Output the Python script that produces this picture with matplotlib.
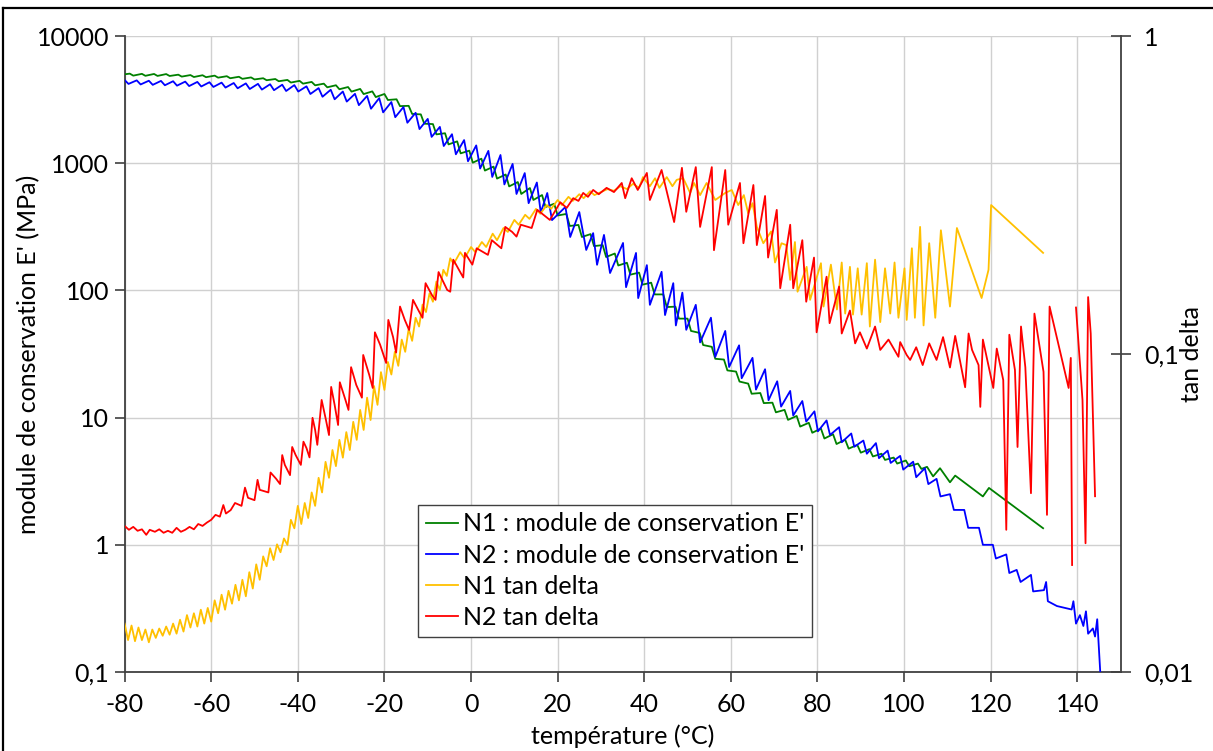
import numpy as np
import matplotlib
matplotlib.use("Agg")
import matplotlib.pyplot as plt
from matplotlib.lines import Line2D
from matplotlib.ticker import FixedLocator, NullLocator, FixedFormatter

plt.rcParams['font.family'] = ['Lato', 'DejaVu Sans']
plt.rcParams['axes.unicode_minus'] = False

# ---------------- data ----------------
# N1 : module de conservation E' (MPa)  -> (temperature, value)
n1_modulus = [
    (-80.0, 5000), (-78.8, 5060), (-78.0, 4880), (-76.0, 5040), (-75.2, 4865), (-73.2, 5030), (-72.4, 4855),
    (-70.4, 5020), (-69.6, 4850), (-67.6, 4965), (-66.8, 4795), (-64.8, 4930), (-64.0, 4760),
    (-62.0, 4915), (-61.2, 4745), (-59.2, 4880), (-58.4, 4705), (-56.4, 4830), (-55.6, 4655),
    (-53.6, 4780), (-52.8, 4605), (-50.8, 4725), (-50.0, 4555), (-48.0, 4655), (-47.2, 4490),
    (-45.2, 4590), (-44.4, 4410), (-42.4, 4515), (-41.6, 4305), (-39.6, 4440), (-38.8, 4220),
    (-36.8, 4355), (-36.0, 4095), (-34.0, 4220), (-33.2, 3950), (-31.2, 4100), (-30.4, 3815),
    (-28.4, 3970), (-27.6, 3655), (-25.6, 3835), (-24.8, 3495), (-22.8, 3670), (-22.0, 3310),
    (-20.0, 3500), (-19.2, 3140), (-17.2, 3180), (-16.4, 2810), (-14.4, 2825), (-13.6, 2440),
    (-11.6, 2420), (-10.8, 2045), (-8.8, 2030), (-8.0, 1685), (-6.0, 1720), (-5.2, 1405),
    (-3.2, 1485), (-2.4, 1195), (-0.4, 1255), (0.4, 1010), (2.4, 1085), (3.2, 875),
    (5.2, 940), (6.0, 757), (8.0, 815), (8.8, 657), (10.8, 711), (11.6, 573),
    (13.6, 638), (14.4, 514), (16.4, 562), (17.2, 452), (19.2, 480), (20.0, 388),
    (22.0, 399), (22.8, 321), (24.8, 327), (25.6, 263), (27.6, 277), (28.4, 223),
    (30.4, 227), (31.2, 183), (33.2, 195), (34.0, 157), (36.0, 165), (36.8, 133),
    (38.8, 138), (39.6, 111), (41.6, 115), (42.4, 93), (44.4, 93), (45.2, 74),
    (47.2, 74.5), (48.0, 60), (50.0, 60), (50.8, 48), (52.8, 46.3), (53.6, 37.2),
    (55.6, 36), (56.4, 29), (58.4, 28.6), (59.2, 23.5), (61.2, 23), (62.0, 19.2),
    (64.0, 18.5), (64.8, 15.4), (66.8, 15.6), (67.6, 13.0), (69.6, 13.1), (70.4, 11.0),
    (72.4, 11.5), (73.2, 9.6), (75.2, 10.3), (76.0, 8.5), (78.0, 9.1), (78.8, 7.6),
    (80.8, 8.2), (81.6, 6.85), (83.6, 7.4), (84.4, 6.2), (86.4, 6.7), (87.2, 5.7),
    (89.2, 6.1), (90.0, 5.3), (92.0, 5.65), (92.8, 4.95), (94.8, 5.2), (95.6, 4.65),
    (97.6, 4.85), (98.4, 4.35), (100.4, 4.6), (101.2, 4.15), (103.2, 4.35), (104.0, 3.95),
    (105.3, 4.1), (106.7, 3.45), (108.3, 4.0), (110.6, 3.1), (111.8, 3.5), (118.2, 2.4),
    (119.6, 2.8), (132.1, 1.35),
]

# N2 : module de conservation E' (MPa)
n2_modulus = [
    (-80.0, 4510), (-79.1, 4200), (-77.2, 4480), (-76.3, 4160), (-74.4, 4450), (-73.5, 4130),
    (-71.6, 4435), (-70.7, 4100), (-68.8, 4410), (-67.9, 4070), (-66.0, 4380), (-65.1, 4040),
    (-63.2, 4355), (-62.3, 4010), (-60.4, 4330), (-59.5, 3975), (-57.6, 4300), (-56.7, 3930),
    (-54.8, 4270), (-53.9, 3880), (-52.0, 4240), (-51.1, 3830), (-49.2, 4205), (-48.3, 3790),
    (-46.4, 4175), (-45.5, 3750), (-43.6, 4140), (-42.7, 3695), (-40.8, 4110), (-39.9, 3660),
    (-38.0, 4020), (-37.1, 3500), (-35.2, 3895), (-34.3, 3330), (-32.4, 3780), (-31.5, 3180),
    (-29.6, 3660), (-28.7, 3050), (-26.8, 3510), (-25.9, 2860), (-24.0, 3380), (-23.1, 2680),
    (-21.2, 3250), (-20.3, 2510), (-18.4, 3025), (-17.5, 2300), (-15.6, 2765), (-14.7, 2080),
    (-12.8, 2490), (-11.9, 1855), (-10.0, 2230), (-9.1, 1610), (-7.2, 1930), (-6.3, 1365),
    (-4.4, 1690), (-3.5, 1175), (-1.6, 1520), (-0.7, 1036), (1.2, 1380), (2.1, 908),
    (4.0, 1250), (4.9, 780), (6.8, 1160), (7.7, 681), (9.6, 987), (10.5, 573),
    (12.4, 836), (13.3, 485), (15.2, 705), (16.1, 410), (17.6, 583), (18.7, 357),
    (21.8, 453), (22.9, 263), (25.0, 413), (26.6, 208), (28.2, 282), (29.1, 159),
    (30.7, 273), (32.1, 137), (35.1, 236), (35.8, 106), (38.1, 197), (38.6, 87),
    (40.6, 158), (41.3, 77), (44.0, 140), (44.8, 64), (46.7, 114), (47.3, 53),
    (48.8, 96), (49.7, 49), (51.9, 77), (52.9, 39), (55.4, 61), (56.4, 30),
    (58.7, 48), (59.6, 25), (61.9, 37), (62.5, 20.4), (65.0, 29.5), (65.8, 16.6),
    (67.9, 24), (68.7, 13.7), (70.7, 19.3), (71.6, 12.2), (73.7, 16.2), (74.4, 10.4),
    (76.5, 13.5), (77.4, 9.3), (79.3, 11.2), (80.1, 7.8), (82.1, 9.5), (82.9, 7.3),
    (85.0, 8.4), (85.6, 6.4), (87.8, 7.5), (88.5, 5.9), (90.6, 6.6), (91.4, 5.2),
    (93.5, 6.3), (94.2, 4.8), (96.2, 5.5), (96.9, 4.4), (99.1, 5.0), (99.8, 3.9),
    (102.1, 4.5), (102.8, 3.4), (104.8, 4.0), (105.6, 3.0), (107.5, 3.3), (108.4, 2.4),
    (110.6, 2.5), (111.5, 1.88), (113.9, 1.88), (114.8, 1.36), (117.3, 1.36), (118.2, 1.0),
    (120.5, 1.0), (121.2, 0.78), (123.6, 0.84), (124.3, 0.60), (126.0, 0.635), (126.9, 0.51),
    (129.3, 0.58), (129.8, 0.43), (132.3, 0.44), (132.8, 0.51), (133.2, 0.36), (135.3, 0.33),
    (138.7, 0.31), (139.1, 0.36), (139.7, 0.24), (140.6, 0.28), (141.4, 0.23), (142.0, 0.30),
    (142.5, 0.20), (143.6, 0.22), (144.1, 0.19), (144.6, 0.26), (145.3, 0.10),
]

# N1 tan delta
n1_tan = [
    (-80.0, 0.0142), (-79.2, 0.0126), (-78.4, 0.0140), (-77.6, 0.0125), (-76.8, 0.0138), (-76.0, 0.0126),
    (-75.2, 0.0136), (-74.4, 0.0124), (-73.6, 0.0136), (-72.8, 0.0128), (-72.0, 0.0137), (-71.2, 0.0130),
    (-70.4, 0.0139), (-69.6, 0.0131), (-68.8, 0.0142), (-68.0, 0.0132), (-67.2, 0.0146), (-66.4, 0.0134),
    (-65.6, 0.0151), (-64.8, 0.0138), (-64.0, 0.0153), (-63.2, 0.0139), (-62.4, 0.0157), (-61.6, 0.0142),
    (-60.8, 0.0159), (-60.0, 0.0144), (-59.2, 0.0168), (-58.4, 0.0153), (-57.6, 0.0175), (-56.8, 0.0157),
    (-56.0, 0.0180), (-55.2, 0.0164), (-54.4, 0.0188), (-53.6, 0.0168), (-52.8, 0.0195), (-52.0, 0.0173),
    (-51.2, 0.0206), (-50.4, 0.0183), (-49.6, 0.0218), (-48.8, 0.0195), (-48.0, 0.0231), (-47.2, 0.0215),
    (-46.4, 0.0245), (-45.6, 0.0225), (-44.8, 0.0252), (-44.0, 0.0238), (-43.2, 0.0263), (-42.4, 0.0251),
    (-41.6, 0.0301), (-40.8, 0.0283), (-40.0, 0.0333), (-39.2, 0.0292), (-38.4, 0.0340), (-37.6, 0.0305),
    (-36.8, 0.0367), (-36.0, 0.0333), (-35.2, 0.0408), (-34.4, 0.0367), (-33.6, 0.0458), (-32.8, 0.0408),
    (-32.0, 0.0499), (-31.2, 0.0444), (-30.4, 0.0537), (-29.6, 0.0472), (-28.8, 0.0568), (-28.0, 0.0499),
    (-27.2, 0.0612), (-26.4, 0.0537), (-25.6, 0.0667), (-24.8, 0.0577), (-24.0, 0.0729), (-23.2, 0.0620),
    (-22.4, 0.0793), (-21.6, 0.0692), (-20.8, 0.0877), (-20.0, 0.0771), (-19.2, 0.0944), (-18.4, 0.0862),
    (-17.6, 0.1016), (-16.8, 0.0918), (-16.0, 0.111), (-15.2, 0.1016), (-14.4, 0.120), (-13.6, 0.110),
    (-12.8, 0.130), (-12.0, 0.122), (-11.2, 0.143), (-10.4, 0.1355), (-9.6, 0.155), (-8.8, 0.146),
    (-8.0, 0.169), (-7.2, 0.159), (-6.4, 0.184), (-5.6, 0.176), (-4.8, 0.200), (-4.0, 0.192),
    (-2.5, 0.209), (-1.5, 0.200), (0.0, 0.217), (1.0, 0.209), (2.5, 0.225), (3.5, 0.217),
    (5.0, 0.239), (6.0, 0.228), (7.5, 0.249), (8.5, 0.242), (10.0, 0.264), (11.0, 0.255),
    (12.5, 0.274), (13.5, 0.266), (15.0, 0.286), (16.0, 0.276), (17.5, 0.294), (18.5, 0.286),
    (20.0, 0.305), (21.0, 0.294), (22.5, 0.312), (23.5, 0.303), (25.0, 0.318), (26.0, 0.309),
    (27.5, 0.325), (28.5, 0.316), (30.0, 0.323), (31.5, 0.330), (33.0, 0.326), (34.5, 0.337),
    (36.0, 0.330), (37.4, 0.343), (38.8, 0.333), (39.7, 0.360), (41.3, 0.337), (42.5, 0.357),
    (43.5, 0.333), (45.2, 0.360), (46.5, 0.337), (47.5, 0.353), (49.0, 0.357), (50.6, 0.321),
    (51.5, 0.345), (52.9, 0.316), (54.4, 0.345), (56.4, 0.305), (58.7, 0.321), (60.2, 0.328),
    (61.7, 0.294), (63.0, 0.316), (64.0, 0.277), (65.0, 0.298), (66.0, 0.251), (67.5, 0.223),
    (69.3, 0.243), (70.2, 0.194), (71.7, 0.223), (72.8, 0.220), (73.7, 0.171), (74.8, 0.225),
    (75.4, 0.157), (77.5, 0.188), (78.3, 0.148), (80.8, 0.193), (81.4, 0.141), (83.1, 0.191),
    (84.5, 0.138), (85.6, 0.194), (86.4, 0.134), (87.5, 0.188), (88.2, 0.133), (89.3, 0.186),
    (90.2, 0.133), (91.4, 0.193), (92.1, 0.122), (93.3, 0.198), (94.5, 0.126), (95.6, 0.186),
    (96.8, 0.134), (97.8, 0.194), (98.7, 0.130), (100.1, 0.186), (100.6, 0.128), (101.8, 0.215),
    (102.5, 0.130), (103.7, 0.251), (104.5, 0.123), (105.8, 0.223), (107.2, 0.130), (108.5, 0.245),
    (110.6, 0.141), (112.2, 0.249), (117.9, 0.150), (119.5, 0.184), (120.1, 0.294), (132.1, 0.208),
]

# N2 tan delta (nan = break in the curve)
n2_tan = [
    (-80.0, 0.0288), (-79.0, 0.0280), (-78.0, 0.0286), (-77.0, 0.0278), (-76.0, 0.0281), (-75.0, 0.0270),
    (-74.2, 0.0280), (-73.0, 0.0276), (-72.0, 0.0281), (-71.0, 0.0274), (-70.0, 0.0278), (-69.0, 0.0274),
    (-68.0, 0.0284), (-67.0, 0.0276), (-66.0, 0.0280), (-65.0, 0.0286), (-64.0, 0.0281), (-63.0, 0.0292),
    (-62.0, 0.0288), (-61.0, 0.0295), (-60.0, 0.0301), (-59.0, 0.0312), (-58.0, 0.0308), (-57.2, 0.0335),
    (-56.6, 0.0315), (-55.5, 0.0323), (-54.5, 0.0340), (-53.0, 0.0333), (-52.2, 0.0380), (-51.5, 0.0353),
    (-50.0, 0.0347), (-49.3, 0.0402), (-48.8, 0.0374), (-46.8, 0.0367), (-46.3, 0.0424), (-45.0, 0.0405),
    (-44.1, 0.0390), (-43.6, 0.0481), (-43.0, 0.0448), (-41.8, 0.0416), (-41.3, 0.0510), (-40.5, 0.0481),
    (-39.3, 0.0448), (-38.7, 0.0530), (-38.0, 0.0506), (-37.3, 0.0473), (-36.6, 0.0630), (-36.0, 0.0577),
    (-35.5, 0.0518), (-34.5, 0.0717), (-33.5, 0.0620), (-32.8, 0.0556), (-32.3, 0.0788), (-31.5, 0.0692),
    (-30.7, 0.0598), (-30.3, 0.0815), (-29.0, 0.0717), (-28.3, 0.0667), (-27.7, 0.0909), (-26.5, 0.0799),
    (-25.2, 0.0729), (-24.9, 0.0993), (-23.5, 0.0859), (-22.7, 0.0782), (-22.2, 0.117), (-21.0, 0.107),
    (-19.6, 0.0937), (-19.1, 0.128), (-18.0, 0.113), (-17.3, 0.101), (-16.4, 0.141), (-15.3, 0.128),
    (-14.3, 0.119), (-13.4, 0.148), (-12.0, 0.136), (-11.2, 0.130), (-10.5, 0.167), (-9.0, 0.153),
    (-8.2, 0.148), (-7.5, 0.181), (-5.5, 0.159), (-4.8, 0.157), (-4.1, 0.198), (-2.5, 0.181),
    (-1.8, 0.174), (-1.4, 0.208), (0.3, 0.191), (1.3, 0.215), (3.9, 0.205), (4.8, 0.228),
    (7.0, 0.215), (7.9, 0.251), (9.5, 0.242), (10.5, 0.234), (11.5, 0.255), (14.0, 0.249),
    (15.3, 0.284), (18.2, 0.264), (20.6, 0.300), (22.1, 0.288), (23.6, 0.309), (24.8, 0.303),
    (25.9, 0.321), (27.0, 0.312), (28.2, 0.328), (29.5, 0.318), (31.3, 0.333), (33.0, 0.323),
    (34.8, 0.345), (35.6, 0.309), (37.1, 0.357), (38.5, 0.328), (40.6, 0.371), (41.3, 0.305),
    (44.0, 0.379), (46.9, 0.260), (48.7, 0.385), (49.7, 0.280), (51.9, 0.387), (52.9, 0.251),
    (55.6, 0.387), (56.1, 0.212), (58.7, 0.379), (59.4, 0.255), (62.1, 0.345), (62.9, 0.223),
    (65.2, 0.340), (66.0, 0.220), (67.9, 0.314), (68.6, 0.201), (70.6, 0.284), (71.4, 0.161),
    (73.7, 0.255), (74.4, 0.161), (76.5, 0.228), (77.4, 0.146), (79.2, 0.201), (79.8, 0.117),
    (82.1, 0.175), (82.8, 0.125), (85.0, 0.163), (85.6, 0.116), (87.5, 0.137), (88.7, 0.108),
    (89.8, 0.117), (91.4, 0.104), (93.3, 0.122), (94.5, 0.103), (96.4, 0.111), (98.7, 0.098),
    (99.1, 0.109), (100.6, 0.0993), (101.4, 0.0958), (102.8, 0.105), (104.3, 0.0923), (105.8, 0.108),
    (107.5, 0.0958), (109.0, 0.113), (110.6, 0.0907), (111.8, 0.114), (114.1, 0.0786), (114.9, 0.116),
    (115.7, 0.103), (117.2, 0.0923), (117.6, 0.0682), (118.2, 0.111), (120.6, 0.0782), (121.4, 0.104),
    (122.9, 0.0828), (123.6, 0.0280), (124.3, 0.115), (125.6, 0.0891), (126.2, 0.0510), (127.0, 0.122),
    (128.0, 0.0909), (129.3, 0.0365), (130.1, 0.134), (132.2, 0.0879), (133.0, 0.0312), (133.6, 0.141),
    (138.0, 0.0782), (138.5, 0.0972), (138.8, 0.0217), (139.2, np.nan),
    (139.7, 0.140), (141.2, 0.0717), (141.9, 0.0254), (142.5, 0.151), (143.1, 0.116), (144.1, 0.0357),
]

series_labels = ["N1 : module de conservation E'", "N2 : module de conservation E'",
                 "N1 tan delta", "N2 tan delta"]
x_ticks = [-80, -60, -40, -20, 0, 20, 40, 60, 80, 100, 120, 140]
left_ticks = [0.1, 1, 10, 100, 1000, 10000]
left_tick_labels = ["0,1", "1", "10", "100", "1000", "10000"]
right_ticks = [0.01, 0.1, 1]
right_tick_labels = ["0,01", "0,1", "1"]

# ---------------- figure ----------------
W, H = 1213, 751
fig = plt.figure(figsize=(W / 100, H / 100), dpi=100)
ax = fig.add_axes([124.6 / W, 79 / H, 996 / W, 636 / H])
ax2 = ax.twinx()

FS = 18
lw = 1.3
col_green, col_blue, col_yellow, col_red = '#008000', '#0000ff', '#ffc000', '#ff0000'

def xy(data):
    t = np.array([p[0] for p in data], dtype=float)
    v = np.array([p[1] for p in data], dtype=float)
    return t, v

l1, = ax.plot(*xy(n1_modulus), color=col_green, lw=lw, label=series_labels[0], zorder=3)
l2, = ax.plot(*xy(n2_modulus), color=col_blue, lw=lw, label=series_labels[1], zorder=3)
l3, = ax2.plot(*xy(n1_tan), color=col_yellow, lw=lw, label=series_labels[2], zorder=3)
l4, = ax2.plot(*xy(n2_tan), color=col_red, lw=lw, label=series_labels[3], zorder=3)

ax.set_xlim(-80, 150)
ax.set_yscale('log')
ax.set_ylim(0.1, 10000)
ax2.set_yscale('log')
ax2.set_ylim(0.01, 1)

ax.xaxis.set_major_locator(FixedLocator(x_ticks))
ax.xaxis.set_minor_locator(NullLocator())
ax.yaxis.set_major_locator(FixedLocator(left_ticks))
ax.yaxis.set_major_formatter(FixedFormatter(left_tick_labels))
ax.yaxis.set_minor_locator(NullLocator())
ax2.yaxis.set_major_locator(FixedLocator(right_ticks))
ax2.yaxis.set_major_formatter(FixedFormatter(right_tick_labels))
ax2.yaxis.set_minor_locator(NullLocator())

grid_col = '#d0d0d0'
ax.grid(True, which='major', color=grid_col, lw=1.0, zorder=0)
ax.set_axisbelow(True)

for a in (ax, ax2):
    a.spines['top'].set_visible(False)
ax.spines['left'].set_color('#404040')
ax.spines['bottom'].set_color('#404040')
ax.spines['left'].set_linewidth(1.3)
ax.spines['bottom'].set_linewidth(1.3)
ax.spines['right'].set_visible(False)
ax2.spines['left'].set_visible(False)
ax2.spines['bottom'].set_visible(False)
ax2.spines['right'].set_color('#404040')
ax2.spines['right'].set_linewidth(1.3)

ax.tick_params(axis='x', direction='out', length=7, width=1.2, color='#404040',
               labelsize=FS, pad=8)
ax.tick_params(axis='y', direction='out', length=7, width=1.2, color='#404040',
               labelsize=FS, pad=4)
ax2.tick_params(axis='y', direction='inout', length=14, width=1.2, color='#404040',
                labelsize=FS, pad=10)

ax.set_xlabel('température (°C)', fontsize=FS)
ax.xaxis.set_label_coords(0.5, -0.083)
ax.set_ylabel("module de conservation E' (MPa)", fontsize=FS)
ax.yaxis.set_label_coords(-0.085, 0.5)
ax2.set_ylabel('tan delta', fontsize=FS)
ax2.yaxis.set_label_coords(1.0596, 0.5)

leg = ax2.legend(handles=[l1, l2, l3, l4], loc='upper left',
                 bbox_to_anchor=(0.2946, 0.2626), borderaxespad=0,
                 fontsize=FS, frameon=True, fancybox=False, edgecolor='#404040',
                 framealpha=1, handlelength=1.3, handletextpad=0.2,
                 labelspacing=0.33, borderpad=0.3)
leg.get_frame().set_linewidth(1.0)
leg.set_zorder(10)

# outer chart border (left and top edges visible)
fig.add_artist(Line2D([3 / W, 3 / W], [0, (H - 8) / H], color='black', lw=1.6,
                      transform=fig.transFigure))
fig.add_artist(Line2D([3 / W, 1], [(H - 8) / H, (H - 8) / H], color='black', lw=1.6,
                      transform=fig.transFigure))

fig.savefig('out.png', dpi=100)
